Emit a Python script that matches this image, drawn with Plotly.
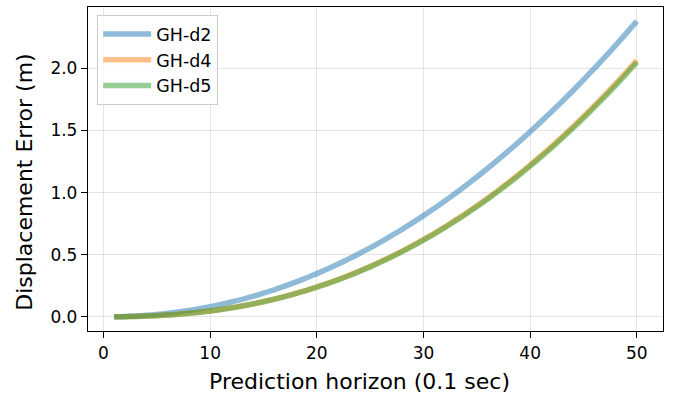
import plotly.graph_objects as go

horizon = list(range(1, 51))

gh_d2 = [0.0010, 0.0028, 0.0065, 0.0118, 0.0189, 0.0277, 0.0383, 0.0507, 0.0650, 0.0811,
         0.0990, 0.1189, 0.1407, 0.1643, 0.1900, 0.2175, 0.2471, 0.2786, 0.3121, 0.3476,
         0.3851, 0.4246, 0.4661, 0.5097, 0.5553, 0.6030, 0.6528, 0.7045, 0.7584, 0.8144,
         0.8724, 0.9326, 0.9949, 1.0592, 1.1257, 1.1944, 1.2651, 1.3380, 1.4129, 1.4900,
         1.5694, 1.6508, 1.7345, 1.8202, 1.9083, 1.9984, 2.0906, 2.1852, 2.2820, 2.3809]

gh_d4 = [0.0003, 0.0011, 0.0028, 0.0055, 0.0093, 0.0142, 0.0204, 0.0279, 0.0368, 0.0471,
         0.0589, 0.0723, 0.0872, 0.1038, 0.1221, 0.1421, 0.1638, 0.1874, 0.2127, 0.2400,
         0.2691, 0.3002, 0.3332, 0.3683, 0.4053, 0.4444, 0.4856, 0.5290, 0.5745, 0.6221,
         0.6719, 0.7239, 0.7782, 0.8347, 0.8936, 0.9547, 1.0182, 1.0841, 1.1523, 1.2229,
         1.2961, 1.3715, 1.4495, 1.5299, 1.6128, 1.6983, 1.7863, 1.8770, 1.9701, 2.0660]

gh_d5 = [0.0002, 0.0011, 0.0028, 0.0054, 0.0092, 0.0141, 0.0202, 0.0276, 0.0364, 0.0467,
         0.0584, 0.0716, 0.0865, 0.1029, 0.1210, 0.1409, 0.1624, 0.1858, 0.2109, 0.2380,
         0.2669, 0.2977, 0.3305, 0.3653, 0.4020, 0.4408, 0.4817, 0.5247, 0.5699, 0.6171,
         0.6665, 0.7181, 0.7720, 0.8281, 0.8865, 0.9471, 1.0101, 1.0755, 1.1432, 1.2132,
         1.2858, 1.3606, 1.4380, 1.5178, 1.6000, 1.6849, 1.7722, 1.8622, 1.9546, 2.0497]

names = ["GH-d2", "GH-d4", "GH-d5"]
series = [gh_d2, gh_d4, gh_d5]
colors = ["rgba(31,119,180,0.5)", "rgba(255,127,14,0.5)", "rgba(44,160,44,0.5)"]

x_ticks = [0, 10, 20, 30, 40, 50]
y_ticks = [0.0, 0.5, 1.0, 1.5, 2.0]

x_title = "Prediction horizon (0.1 sec)"
y_title = "Displacement Error (m)"

fig = go.Figure()
for name, ys, c in zip(names, series, colors):
    fig.add_trace(go.Scatter(x=horizon, y=ys, mode="lines", name=name,
                             legendgroup=name,
                             line=dict(color=c, width=5.5, simplify=False,
                                       shape="spline", smoothing=0.6)))

font_family = "DejaVu Sans"
axis_common = dict(
    showline=True, linecolor="black", linewidth=1.3, mirror=True,
    ticks="outside", ticklen=6, tickwidth=1.3, tickcolor="black",
    showgrid=True, gridcolor="rgba(0,0,0,0.1)", gridwidth=1,
    zeroline=False,
    tickfont=dict(family=font_family, size=17, color="black"),
)

fig.update_layout(
    width=677, height=397,
    margin=dict(l=88, r=14, t=7, b=66),
    paper_bgcolor="white", plot_bgcolor="white",
    font=dict(family=font_family, color="black"),
    showlegend=True,
    legend=dict(
        x=0.016, y=0.975, xanchor="left", yanchor="top",
        bgcolor="rgba(255,255,255,0.8)", bordercolor="#cccccc", borderwidth=1,
        font=dict(family=font_family, size=17.5, color="black"),
        tracegroupgap=0, itemwidth=48,
    ),
    xaxis=dict(range=[-1.45, 52.45], tickvals=x_ticks, **axis_common),
    yaxis=dict(range=[-0.1145, 2.4945], tickvals=y_ticks,
               ticktext=[f"{v:.1f}" for v in y_ticks], **axis_common),
    annotations=[
        dict(text=x_title, xref="paper", yref="paper", x=0.472, y=-0.157,
             xanchor="center", yanchor="middle", showarrow=False,
             font=dict(family=font_family, size=22, color="black")),
        dict(text=y_title, xref="paper", yref="paper", x=-0.111, y=0.458,
             xanchor="center", yanchor="middle", showarrow=False, textangle=-90,
             font=dict(family=font_family, size=22, color="black")),
    ],
)

fig.write_html("out.html")
